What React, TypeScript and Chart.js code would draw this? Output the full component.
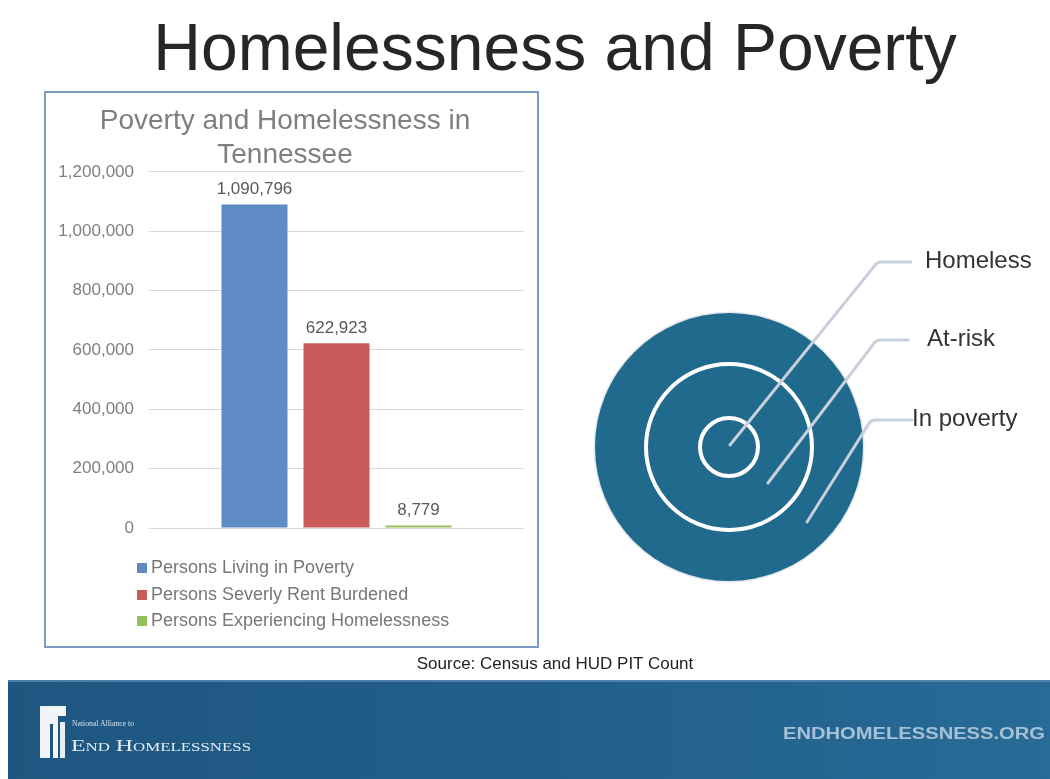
import React, { useEffect, useRef } from "react";
import { Chart, registerables } from "chart.js";

Chart.register(...registerables);

// ---- data ----
const chartTitle = ["Poverty and Homelessness in", "Tennessee"];
const categories = [""];
const seriesNames = [
  "Persons Living in Poverty",
  "Persons Severly Rent Burdened",
  "Persons Experiencing Homelessness",
];
const seriesValues = [1090796, 622923, 8779];
const seriesColors = ["#5f8bc5", "#c95b5b", "#93c15c"];
const yMin = 0;
const yMax = 1200000;
const yStep = 200000;

const ringLabels = ["Homeless", "At-risk", "In poverty"];

const FONT = "'Liberation Sans', Arial, Helvetica, sans-serif";

const valueLabelPlugin = {
  id: "valueLabels",
  afterDatasetsDraw(chart: any) {
    const ctx = chart.ctx;
    ctx.save();
    ctx.font = `17px ${FONT}`;
    ctx.fillStyle = "#595959";
    ctx.textAlign = "center";
    ctx.textBaseline = "middle";
    chart.data.datasets.forEach((ds: any, i: number) => {
      const meta = chart.getDatasetMeta(i);
      meta.data.forEach((bar: any, j: number) => {
        const v = ds.data[j] as number;
        ctx.fillText(v.toLocaleString("en-US"), bar.x, bar.y - 15);
      });
    });
    ctx.restore();
  },
};

const stackedLegendPlugin = {
  id: "stackedLegend",
  afterDraw(chart: any) {
    const ctx = chart.ctx;
    const rows = [475, 502, 528];
    ctx.save();
    ctx.font = `18px ${FONT}`;
    ctx.textAlign = "left";
    ctx.textBaseline = "middle";
    chart.data.datasets.forEach((ds: any, i: number) => {
      const y = rows[i];
      ctx.fillStyle = ds.backgroundColor;
      ctx.fillRect(91, y - 5, 10, 10);
      ctx.fillStyle = "#777777";
      ctx.fillText(ds.label, 105, y);
    });
    ctx.restore();
  },
};

function BarChart() {
  const ref = useRef<HTMLCanvasElement | null>(null);
  useEffect(() => {
    if (!ref.current) return;
    const chart = new Chart(ref.current, {
      type: "bar",
      data: {
        labels: categories,
        datasets: seriesNames.map((name, i) => ({
          label: name,
          data: [seriesValues[i]],
          backgroundColor: seriesColors[i],
          borderWidth: 0,
          categoryPercentage: 0.656,
          barPercentage: 0.805,
        })),
      },
      options: {
        animation: false,
        responsive: true,
        maintainAspectRatio: false,
        layout: { padding: { left: 0, right: 13, top: 0, bottom: 118 } },
        plugins: {
          legend: { display: false },
          tooltip: { enabled: false },
          title: {
            display: true,
            text: chartTitle,
            color: "#7f7f7f",
            font: { family: FONT, size: 28, lineHeight: 1.196, weight: "normal" },
            padding: { top: 12, bottom: 0 },
          },
        },
        scales: {
          x: { display: false },
          y: {
            min: yMin,
            max: yMax,
            ticks: {
              stepSize: yStep,
              color: "#7f7f7f",
              padding: 15,
              font: { family: FONT, size: 17 },
              callback: (v: any) => Number(v).toLocaleString("en-US"),
            },
            grid: { color: "#d9d9d9", lineWidth: 1, drawTicks: false },
            border: { display: false },
            afterFit: (scale: any) => {
              scale.width = 103;
            },
          },
        },
      },
      plugins: [valueLabelPlugin, stackedLegendPlugin],
    } as any);
    return () => chart.destroy();
  }, []);
  return (
    <div style={{ position: "relative", width: 491, height: 553 }}>
      <canvas ref={ref} />
    </div>
  );
}

export default function App() {
  const cx = 729;
  const cy = 447;
  return (
    <div
      style={{
        position: "fixed",
        left: 0,
        top: 0,
        width: 1050,
        height: 779,
        background: "#ffffff",
        overflow: "hidden",
        fontFamily: FONT,
      }}
    >
      <div
        style={{
          position: "absolute",
          left: 555,
          top: 14,
          transform: "translateX(-50%)",
          fontSize: 66,
          lineHeight: 1,
          color: "#262626",
          whiteSpace: "nowrap",
        }}
      >
        Homelessness and Poverty
      </div>

      <div
        style={{
          position: "absolute",
          left: 44,
          top: 91,
          width: 495,
          height: 557,
          border: "2px solid #7d9cc4",
          boxSizing: "border-box",
          background: "#ffffff",
        }}
      >
        <BarChart />
      </div>

      <svg
        width={1050}
        height={779}
        style={{ position: "absolute", left: 0, top: 0, pointerEvents: "none" }}
      >
        <defs>
          <linearGradient id="band" x1="0" y1="0" x2="1" y2="0">
            <stop offset="0" stopColor="#1e5680" />
            <stop offset="0.5" stopColor="#215f8a" />
            <stop offset="1" stopColor="#276b96" />
          </linearGradient>
        </defs>
        {/* target diagram */}
        <circle cx={cx} cy={cy} r={135.5} fill="#e6e9ec" />
        <circle cx={cx} cy={cy} r={134} fill="#206a8e" />
        <circle cx={cx} cy={cy} r={83} fill="none" stroke="#ffffff" strokeWidth={4} />
        <circle cx={cx} cy={cy} r={29} fill="none" stroke="#ffffff" strokeWidth={4} />
        <g stroke="#c8d0dc" strokeWidth={3} fill="none" strokeLinecap="round">
          <path d="M 730 445 L 876 264 Q 878 262 882 262 L 911 262" />
          <path d="M 768 483 L 875 342 Q 877 340 881 340 L 908 340" />
          <path d="M 807 522 L 868 425 Q 870 421 874 420 L 912 420" />
        </g>
        <g fontFamily={FONT} fontSize={24} fill="#333333" dominantBaseline="central">
          <text x={925} y={259}>{ringLabels[0]}</text>
          <text x={927} y={337}>{ringLabels[1]}</text>
          <text x={912} y={417}>{ringLabels[2]}</text>
        </g>

        {/* footer band */}
        <rect x={8} y={680} width={1042} height={99} fill="url(#band)" />
        <rect x={8} y={680} width={1042} height={2} fill="#5f8fb3" opacity={0.7} />
        {/* logo */}
        <path d="M 40 706 L 66 706 L 66 716 L 58 716 L 58 758 L 40 758 Z" fill="#f2f5f8" />
        <rect x={50} y={724} width={3} height={34} fill="#1e5680" />
        <rect x={60} y={722} width={5} height={36} fill="#e8eef3" />
        <text x={72} y={726} fontFamily="'Liberation Serif', serif" fontSize={9} fill="#d8e2eb" textLength={62} lengthAdjust="spacingAndGlyphs">
          National Alliance to
        </text>
        <text x={71} y={751} fontFamily="'Liberation Serif', serif" fontSize={17} fill="#e6edf3" textLength={180} lengthAdjust="spacingAndGlyphs" style={{ fontVariant: "small-caps" }}>
          End Homelessness
        </text>
        <text x={783} y={739} fontFamily={FONT} fontWeight="bold" fontSize={16} fill="#a6c1d6" textLength={262} lengthAdjust="spacingAndGlyphs">
          ENDHOMELESSNESS.ORG
        </text>
      </svg>

      <div
        style={{
          position: "absolute",
          left: 555,
          top: 653,
          transform: "translateX(-50%)",
          fontSize: 17,
          lineHeight: "22px",
          color: "#222222",
          whiteSpace: "nowrap",
        }}
      >
        Source: Census and HUD PIT Count
      </div>
    </div>
  );
}
